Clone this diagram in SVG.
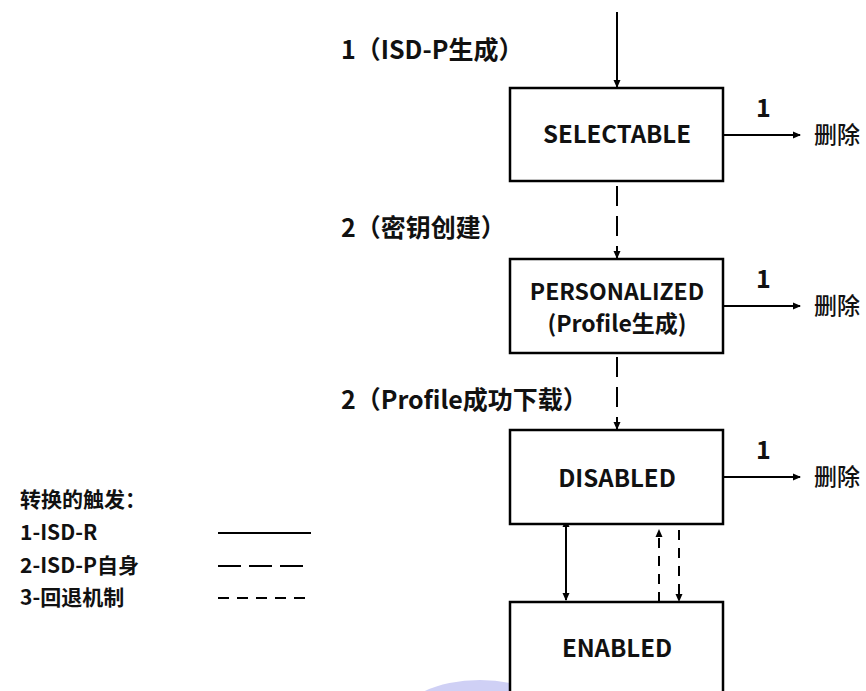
<svg xmlns="http://www.w3.org/2000/svg" width="866" height="691" viewBox="0 0 866 691">
<defs>
<marker id="ah" markerWidth="8" markerHeight="8" refX="7" refY="4" orient="auto" markerUnits="userSpaceOnUse">
<path d="M0,0.5 L8,4 L0,7.5 Z" fill="#000"/>
</marker>
<marker id="as" markerWidth="8" markerHeight="8" refX="1" refY="4" orient="auto-start-reverse" markerUnits="userSpaceOnUse">
<path d="M0,0.5 L8,4 L0,7.5 Z" fill="#000"/>
</marker>
<style>
.box{fill:#fff;stroke:#000;stroke-width:2.5}
.t{font-family:"Noto Sans CJK SC","Noto Sans",sans-serif;fill:#111}
.bl{font-size:24px;font-weight:700;text-anchor:middle}
.bs{font-size:23px;font-weight:700;text-anchor:middle}
.lb{font-size:25px;font-weight:700}
.dl{font-size:23px;font-weight:500}
.lg{font-size:21px;font-weight:700}
.ln{stroke:#000;stroke-width:2;fill:none}
.d2{stroke-dasharray:20 10}
.d3{stroke-dasharray:10 8}
</style>
</defs>
<ellipse cx="480" cy="720" rx="80" ry="40" fill="#cfd0f5"/>
<g id="connectors">
<line class="ln" x1="617" y1="12" x2="617" y2="87" marker-end="url(#ah)"/>
<line class="ln d2" x1="617" y1="186" x2="617" y2="258" marker-end="url(#ah)"/>
<line class="ln d2" x1="617" y1="357" x2="617" y2="429" marker-end="url(#ah)"/>
<line class="ln" x1="566" y1="526" x2="566" y2="600" marker-start="url(#as)" marker-end="url(#ah)"/>
<line class="ln d3" x1="659" y1="602" x2="659" y2="530" marker-end="url(#ah)"/>
<line class="ln d3" x1="679" y1="530" x2="679" y2="601" marker-end="url(#ah)"/>
<line class="ln" x1="724" y1="135" x2="800" y2="135" marker-end="url(#ah)"/>
<line class="ln" x1="724" y1="306" x2="800" y2="306" marker-end="url(#ah)"/>
<line class="ln" x1="724" y1="477" x2="800" y2="477" marker-end="url(#ah)"/>
</g>
<g id="selectable">
<rect class="box" x="510" y="88" width="213" height="93"/>
<text class="t bl" x="617" y="143">SELECTABLE</text>
</g>
<g id="personalized">
<rect class="box" x="510" y="259" width="213" height="94"/>
<text class="t bs" x="617" y="300">PERSONALIZED</text>
<text class="t bs" x="617" y="332">(Profile生成)</text>
</g>
<g id="disabled">
<rect class="box" x="510" y="430" width="213" height="94"/>
<text class="t bl" x="617" y="487">DISABLED</text>
</g>
<g id="enabled">
<rect class="box" x="510" y="602" width="213" height="100"/>
<text class="t bl" x="617" y="657">ENABLED</text>
</g>
<g id="labels">
<text class="t lb" x="341" y="59">1（ISD-P生成）</text>
<text class="t lb" x="341" y="237">2（密钥创建）</text>
<text class="t lb" x="341" y="409">2（Profile成功下载）</text>
<text class="t lb" x="756" y="117">1</text>
<text class="t lb" x="756" y="288">1</text>
<text class="t lb" x="756" y="459">1</text>
<text class="t dl" x="814" y="143">删除</text>
<text class="t dl" x="814" y="314">删除</text>
<text class="t dl" x="814" y="485">删除</text>
</g>
<g id="legend">
<text class="t lg" x="20" y="507">转换的触发：</text>
<text class="t lg" x="20" y="540">1-ISD-R</text>
<text class="t lg" x="20" y="573">2-ISD-P自身</text>
<text class="t lg" x="20" y="605">3-回退机制</text>
<line class="ln" x1="218" y1="533" x2="311" y2="533"/>
<line class="ln" x1="218" y1="566" x2="303" y2="566" stroke-dasharray="23 8"/>
<line class="ln" x1="218" y1="598" x2="307" y2="598" stroke-dasharray="11 8"/>
</g>
</svg>
